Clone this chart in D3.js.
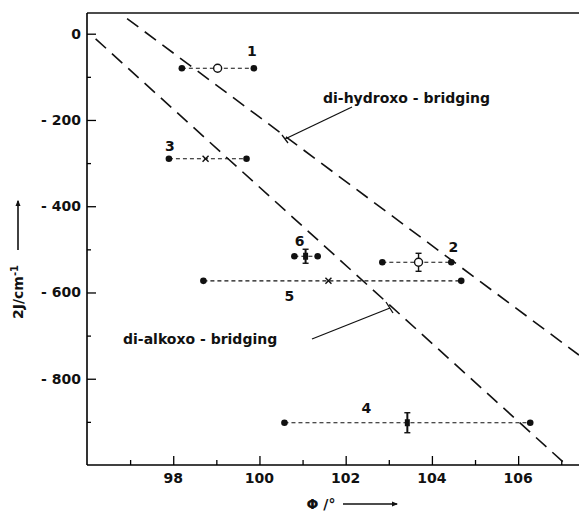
<!DOCTYPE html>
<html>
<head>
<meta charset="utf-8">
<script src="https://cdn.jsdelivr.net/npm/d3@7"></script>
<style>
  body { margin: 0; background: #fff; }
  text { font-family: "DejaVu Sans", sans-serif; font-weight: bold; fill: #111; }
</style>
</head>
<body>
<div id="chart-area"></div>
<script>
// tick values
var xTicks = [98, 100, 102, 104, 106];
var xMinor = [97, 99, 101, 103, 105, 107];
var yTicks = [0, -200, -400, -600, -800];
var yMinor = [-100, -300, -500, -700, -900];

// compounds: angle range (low / mean / high) and coupling constant 2J
var compounds = ["1", "2", "3", "4", "5", "6"];
var phiLow  = [98.2, 102.85, 97.9, 100.58, 98.7, 100.81];
var phiMid  = [99.03, 103.69, 98.75, 103.43, 101.6, 101.07];
var phiHigh = [99.87, 104.45, 99.7, 106.28, 104.68, 101.35];
var twoJ    = [-80, -530, -290, -902, -573, -516];
var markers = ["open", "openbar", "cross", "bar", "cross", "bar"];

// correlation lines (end points)
var hydroxoPhi = [96.93, 107.41];
var hydroxoJ   = [35, -745];
var alkoxoPhi  = [96.2, 107.12];
var alkoxoJ    = [-12, -1000];

var width = 579, height = 514;
var plotLeft = 87, plotTop = 13, plotBottom = 465;
var fs = 14;

var svg = d3.select("#chart-area")
  .append("svg")
    .attr("width", width)
    .attr("height", height);

var x = d3.scaleLinear().domain([96, 107.4]).range([plotLeft, width - 0.5]);
var y = d3.scaleLinear().domain([-1000, 48]).range([plotBottom, plotTop]);

// frame
svg.append("line")
  .attr("x1", plotLeft).attr("x2", width).attr("y1", plotTop).attr("y2", plotTop)
  .attr("stroke", "#111").attr("stroke-width", 1.6);

var xAxis = svg.append("g")
  .attr("transform", "translate(0," + plotBottom + ")")
  .call(d3.axisTop(x).tickValues(xTicks).tickSize(9).tickFormat(""));
xAxis.select(".domain").attr("stroke-width", 1.6).attr("d", "M" + plotLeft + ",0H" + width);
xAxis.selectAll(".tick line").attr("stroke-width", 1.3);
svg.append("g")
  .attr("transform", "translate(0," + plotBottom + ")")
  .call(d3.axisTop(x).tickValues(xMinor).tickSize(5).tickFormat(""))
  .call(g => g.select(".domain").remove())
  .selectAll(".tick line").attr("stroke-width", 1.3);

svg.selectAll(".xlab")
  .data(xTicks)
  .enter()
  .append("text")
    .attr("x", d => x(d))
    .attr("y", plotBottom + 18)
    .attr("text-anchor", "middle")
    .attr("font-size", fs)
    .text(d => d);

var yAxis = svg.append("g")
  .attr("transform", "translate(" + plotLeft + ",0)")
  .call(d3.axisRight(y).tickValues(yTicks).tickSize(9).tickFormat(""));
yAxis.select(".domain").attr("stroke-width", 1.6).attr("d", "M0," + plotTop + "V" + plotBottom);
yAxis.selectAll(".tick line").attr("stroke-width", 1.3);
svg.append("g")
  .attr("transform", "translate(" + plotLeft + ",0)")
  .call(d3.axisRight(y).tickValues(yMinor).tickSize(4).tickFormat(""))
  .call(g => g.select(".domain").remove())
  .selectAll(".tick line").attr("stroke-width", 1.3);

svg.selectAll(".ylab")
  .data(yTicks)
  .enter()
  .append("text")
    .attr("x", plotLeft - 6)
    .attr("y", d => y(d) + 5)
    .attr("text-anchor", "end")
    .attr("font-size", fs)
    .text(d => d === 0 ? "0" : "- " + Math.abs(d));

// dashed correlation lines
svg.append("clipPath").attr("id", "plot")
  .append("rect").attr("x", plotLeft).attr("y", plotTop)
  .attr("width", width - plotLeft).attr("height", plotBottom - plotTop);

[[hydroxoPhi, hydroxoJ], [alkoxoPhi, alkoxoJ]].forEach(function(l) {
  svg.append("line")
    .attr("clip-path", "url(#plot)")
    .attr("x1", x(l[0][0])).attr("y1", y(l[1][0]))
    .attr("x2", x(l[0][1])).attr("y2", y(l[1][1]))
    .attr("stroke", "#111")
    .attr("stroke-width", 1.6)
    .attr("stroke-dasharray", "14,8");
});

// range connectors
var idx = d3.range(compounds.length);
svg.selectAll(".range")
  .data(idx)
  .enter()
  .append("line")
    .attr("x1", i => x(phiLow[i]))
    .attr("x2", i => x(phiHigh[i]))
    .attr("y1", i => y(twoJ[i]))
    .attr("y2", i => y(twoJ[i]))
    .attr("stroke", "#111")
    .attr("stroke-width", 1.1)
    .attr("stroke-dasharray", "4,3");

svg.selectAll(".end")
  .data(idx.flatMap(i => [[phiLow[i], twoJ[i]], [phiHigh[i], twoJ[i]]]))
  .enter()
  .append("circle")
    .attr("cx", d => x(d[0]))
    .attr("cy", d => y(d[1]))
    .attr("r", 3.3)
    .attr("fill", "#111");

// mean markers
idx.forEach(function(i) {
  var cx = x(phiMid[i]), cy = y(twoJ[i]);
  var m = markers[i];
  var g = svg.append("g").attr("stroke", "#111").attr("stroke-width", 1.4);
  if (m === "open" || m === "openbar") {
    if (m === "openbar") {
      g.append("line").attr("x1", cx).attr("x2", cx).attr("y1", cy - 9).attr("y2", cy + 9);
      g.append("line").attr("x1", cx - 3).attr("x2", cx + 3).attr("y1", cy - 9).attr("y2", cy - 9);
      g.append("line").attr("x1", cx - 3).attr("x2", cx + 3).attr("y1", cy + 9).attr("y2", cy + 9);
    }
    g.append("circle").attr("cx", cx).attr("cy", cy).attr("r", 4).attr("fill", "#fff");
  } else if (m === "cross") {
    g.append("line").attr("x1", cx - 3).attr("x2", cx + 3).attr("y1", cy - 3).attr("y2", cy + 3);
    g.append("line").attr("x1", cx - 3).attr("x2", cx + 3).attr("y1", cy + 3).attr("y2", cy - 3);
  } else {
    var h = i === 3 ? 10 : 7;
    g.append("line").attr("x1", cx).attr("x2", cx).attr("y1", cy - h).attr("y2", cy + h).attr("stroke-width", 2);
    g.append("line").attr("x1", cx - 3).attr("x2", cx + 3).attr("y1", cy - h).attr("y2", cy - h);
    g.append("line").attr("x1", cx - 3).attr("x2", cx + 3).attr("y1", cy + h).attr("y2", cy + h);
    g.append("rect").attr("x", cx - 2.5).attr("y", cy - 3.5).attr("width", 5).attr("height", 7)
      .attr("fill", "#111").attr("stroke", "none");
  }
});

// compound numbers (offset from the marker they belong to)
var labelAt = [["high", -2, -12], ["high", 2, -10], ["low", 1, -8], ["mid", -41, -10], ["mid", -39, 20], ["mid", -6, -10]];
idx.forEach(function(i) {
  var p = labelAt[i];
  var px = p[0] === "high" ? phiHigh[i] : p[0] === "low" ? phiLow[i] : phiMid[i];
  svg.append("text")
    .attr("x", x(px) + p[1])
    .attr("y", y(twoJ[i]) + p[2])
    .attr("text-anchor", "middle")
    .attr("font-size", fs)
    .text(compounds[i]);
});

// line annotations
svg.append("text").attr("x", 323).attr("y", 103).attr("font-size", fs).text("di-hydroxo - bridging");
svg.append("line").attr("x1", 352).attr("y1", 107).attr("x2", 285).attr("y2", 139)
  .attr("stroke", "#111").attr("stroke-width", 1.3);
svg.append("line").attr("x1", 282).attr("y1", 135).attr("x2", 288).attr("y2", 143)
  .attr("stroke", "#111").attr("stroke-width", 1.3);

svg.append("text").attr("x", 123).attr("y", 344).attr("font-size", fs).text("di-alkoxo - bridging");
svg.append("line").attr("x1", 312).attr("y1", 339).attr("x2", 390).attr("y2", 308)
  .attr("stroke", "#111").attr("stroke-width", 1.3);
svg.append("line").attr("x1", 386).attr("y1", 302).attr("x2", 393).attr("y2", 313)
  .attr("stroke", "#111").attr("stroke-width", 1.3);

// axis titles with arrows
svg.append("defs").append("marker")
  .attr("id", "arrow").attr("viewBox", "0 0 10 10").attr("refX", 8).attr("refY", 5)
  .attr("markerWidth", 4).attr("markerHeight", 4).attr("orient", "auto")
  .append("path").attr("d", "M0,1L10,5L0,9Z").attr("fill", "#111");

svg.append("text")
  .attr("transform", "translate(23,292) rotate(-90)")
  .attr("text-anchor", "middle")
  .attr("font-size", fs)
  .html("2J/cm<tspan dy='-5' font-size='10'>-1</tspan>");
svg.append("line").attr("x1", 18).attr("y1", 250).attr("x2", 18).attr("y2", 201)
  .attr("stroke", "#111").attr("stroke-width", 1.6).attr("marker-end", "url(#arrow)");

svg.append("text").attr("x", 321).attr("y", 509).attr("text-anchor", "middle")
  .attr("font-size", fs).text("Φ /°");
svg.append("line").attr("x1", 343).attr("y1", 504).attr("x2", 397).attr("y2", 504)
  .attr("stroke", "#111").attr("stroke-width", 1.6).attr("marker-end", "url(#arrow)");
</script>
</body>
</html>
